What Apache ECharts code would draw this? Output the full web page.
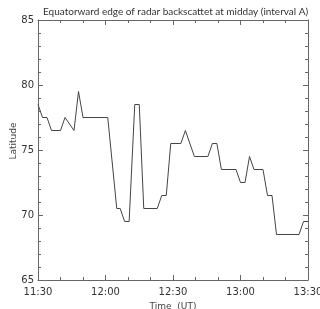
<!DOCTYPE html>
<html>
<head>
<meta charset="utf-8">
<script src="https://cdn.jsdelivr.net/npm/echarts@6/dist/echarts.min.js"></script>
<style>
  html, body { margin: 0; padding: 0; background: #fff; }
  #chart { width: 320px; height: 309px; }
</style>
</head>
<body>
<div id="chart"></div>
<script>
// minutes after 11:30 UT
const times = [0, 2, 4, 6, 10, 12, 16, 18, 20, 31, 35, 36.5, 38.5, 40.5, 43, 45, 47, 53, 55, 57, 59,
  63.5, 65.5, 69.5, 75.5, 77.5, 79.5, 81.5, 88, 90, 92, 94, 96, 100, 102, 104, 106, 116, 118, 120]
const latitude = [78.5, 77.5, 77.5, 76.5, 76.5, 77.5, 76.5, 79.5, 77.5, 77.5, 70.5, 70.5, 69.5, 69.5,
  78.5, 78.5, 70.5, 70.5, 71.5, 71.5, 75.5, 75.5, 76.5, 74.5, 74.5, 75.5, 75.5, 73.5, 73.5, 72.5,
  72.5, 74.5, 73.5, 73.5, 71.5, 71.5, 68.5, 68.5, 69.5, 69.5]
const timeLabels = ['11:30', '12:00', '12:30', '13:00', '13:30']

const font = 'DejaVu Sans'
const axisColor = '#666'

const chart = echarts.init(document.getElementById('chart'))

// axis look shared by bottom/top and left/right
function boxAxis(extra) {
  return Object.assign({
    axisLine: { show: true, onZero: false, lineStyle: { color: axisColor, width: 1 } },
    axisTick: { show: true, inside: true, length: 5, lineStyle: { color: axisColor } },
    minorTick: { show: true, length: 3, lineStyle: { color: axisColor } },
    splitLine: { show: false }
  }, extra)
}

chart.setOption({
  animation: false,
  title: {
    text: 'Equatorward edge of radar backscattet at midday (interval A)',
    left: 38,
    top: 2,
    textStyle: { fontFamily: 'Lato', fontSize: 10, fontWeight: 'normal', color: '#333' }
  },
  grid: { left: 38, right: 12, top: 20, bottom: 29, outerBoundsMode: 'none' },
  xAxis: [
    boxAxis({
      type: 'value', min: 0, max: 120, interval: 30,
      minorTick: { show: true, splitNumber: 3, length: 3, lineStyle: { color: axisColor } },
      name: 'Time  (UT)', nameLocation: 'middle', nameGap: 17,
      nameTextStyle: { fontFamily: font, fontSize: 9, color: '#444' },
      axisLabel: {
        fontFamily: font, fontSize: 10, color: '#333', margin: 7,
        formatter: v => timeLabels[v / 30]
      }
    }),
    boxAxis({
      type: 'value', position: 'top', min: 0, max: 120, interval: 30,
      minorTick: { show: true, splitNumber: 3, length: 3, lineStyle: { color: axisColor } },
      axisLabel: { show: false }
    })
  ],
  yAxis: [
    boxAxis({
      type: 'value', min: 65, max: 85, interval: 5,
      minorTick: { show: true, splitNumber: 5, length: 3, lineStyle: { color: axisColor } },
      name: 'Latitude', nameLocation: 'middle', nameGap: 20, nameMoveOverlap: false,
      nameTextStyle: { fontFamily: font, fontSize: 9, color: '#444', padding: [0, 0, 0, 18] },
      axisLabel: { fontFamily: font, fontSize: 10, color: '#333', margin: 4 }
    }),
    boxAxis({
      type: 'value', position: 'right', min: 65, max: 85, interval: 5,
      minorTick: { show: true, splitNumber: 5, length: 3, lineStyle: { color: axisColor } },
      axisLabel: { show: false }
    })
  ],
  series: [{
    type: 'line',
    data: times.map((t, i) => [t, latitude[i]]),
    symbol: 'none',
    lineStyle: { color: '#444', width: 1 }
  }]
})
</script>
</body>
</html>
